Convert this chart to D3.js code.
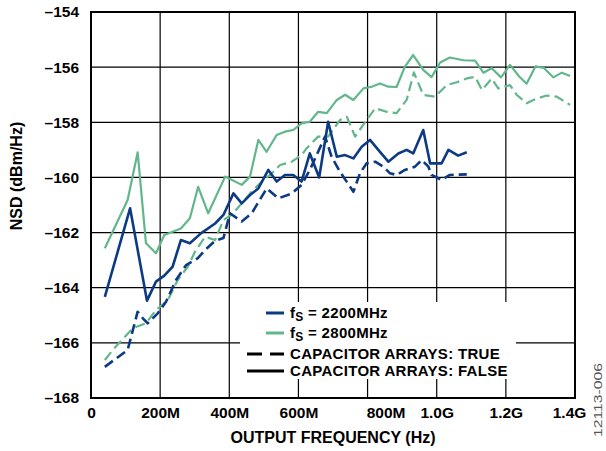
<!DOCTYPE html>
<meta charset="utf-8">
<title>NSD vs Output Frequency</title>
<script src="https://d3js.org/d3.v7.min.js"></script>
<style>
  body { margin: 0; background: #fff; }
  text { font-family: "Liberation Sans", Arial, sans-serif; font-weight: bold; fill: #000; }
</style>
<body>
<svg width="606" height="451"></svg>
<script>

// frequencies in MHz, NSD in dBm/Hz
var freq2200False = [40,113,162,188,212,236,260,286,318,359,383,412,436,460,484,513,537,561,585,609,633,660,686,711,735,759,783,807,831,860,889,913,932,961,981,1014,1034,1062,1087];
var nsd2200False = [-164.33,-161.12,-164.47,-163.78,-163.56,-163.24,-162.27,-162.39,-162.03,-161.67,-161.36,-160.58,-160.94,-160.64,-160.4,-159.73,-160.15,-159.91,-159.91,-160.15,-159.13,-160.0,-157.98,-159.25,-159.19,-159.31,-158.89,-158.64,-159.0,-159.43,-159.13,-159.0,-159.13,-158.28,-159.49,-159.49,-159.0,-159.21,-159.09];

var freq2200True = [40,106,135,150,164,193,217,246,275,309,330,359,383,402,436,465,508,542,581,609,633,677,696,720,759,778,797,822,846,865,884,908,937,957,976,985,1014,1038,1087];
var nsd2200True = [-166.87,-166.26,-164.87,-165.11,-165.29,-164.93,-164.51,-163.72,-163.18,-162.93,-162.63,-162.3,-162.2,-161.3,-161.6,-161.3,-160.4,-160.76,-160.58,-160.27,-159.73,-158.52,-159.25,-159.79,-160.52,-159.85,-159.49,-159.43,-159.61,-159.85,-159.91,-159.73,-159.61,-159.37,-159.61,-159.91,-160.09,-159.91,-159.89];

var freq2800False = [40,106,135,159,188,212,260,286,310,339,388,436,460,484,508,537,561,585,609,633,657,682,711,735,759,788,812,836,860,884,908,932,961,985,1010,1038,1077,1111,1135,1159,1186,1212,1238,1260,1286,1310,1337,1362,1386];
var nsd2800False = [-162.57,-160.82,-159.09,-162.39,-162.75,-162.09,-161.85,-161.48,-160.34,-161.3,-159.97,-160.27,-159.97,-158.64,-159.07,-158.46,-158.34,-158.28,-158.04,-157.98,-157.62,-157.67,-157.19,-157.0,-157.19,-156.77,-156.71,-156.59,-156.71,-156.72,-155.98,-155.56,-156.1,-156.36,-155.83,-155.65,-155.75,-155.76,-156.2,-156.04,-156.37,-155.92,-156.33,-156.6,-155.97,-156.03,-156.37,-156.2,-156.32];

var freq2800True = [40,67,121,159,188,222,251,280,301,330,359,383,407,436,460,489,523,547,581,609,624,657,686,720,740,764,797,822,855,884,913,934,961,995,1029,1058,1087,1111,1131,1159,1178,1212,1231,1260,1287,1318,1347,1386];
var nsd2800True = [-166.62,-166.2,-165.47,-165.29,-164.81,-164.45,-163.72,-163.24,-162.69,-162.15,-162.27,-161.54,-161.36,-160.94,-160.58,-160.21,-159.85,-159.55,-159.43,-159.19,-158.94,-158.52,-158.52,-157.92,-157.8,-158.52,-157.92,-157.49,-157.62,-157.67,-157.19,-156.19,-157.01,-157.07,-156.65,-156.55,-156.41,-156.35,-156.83,-156.41,-156.77,-156.65,-157.0,-157.31,-157.15,-157.03,-157.07,-157.37];

var xTicks = [0, 200, 400, 600, 800, 1000, 1200, 1400];
var xTickLabels = ["0", "200M", "400M", "600M", "800M", "1.0G", "1.2G", "1.4G"];
var yTicks = [-168, -166, -164, -162, -160, -158, -156, -154];

var blue = "#0d3a84", green = "#62b68c";

var svg = d3.select("svg"),
    margin = {top: 12, right: 31, bottom: 53, left: 91},
    width = 606 - margin.left - margin.right,
    height = 451 - margin.top - margin.bottom;

var g = svg.append("g")
    .attr("transform", "translate(" + margin.left + "," + margin.top + ")");

var x = d3.scaleLinear().domain([0, 1400]).range([0, width]);
var y = d3.scaleLinear().domain([-168, -154]).range([height, 0]);

// grid
g.append("g").selectAll("line")
  .data(xTicks.slice(1, -1))
  .enter().append("line")
    .attr("x1", function(d) { return x(d); })
    .attr("x2", function(d) { return x(d); })
    .attr("y1", 0).attr("y2", height)
    .attr("stroke", "#000").attr("stroke-width", 1.2);

g.append("g").selectAll("line")
  .data(yTicks.slice(1, -1))
  .enter().append("line")
    .attr("x1", 0).attr("x2", width)
    .attr("y1", function(d) { return y(d); })
    .attr("y2", function(d) { return y(d); })
    .attr("stroke", "#000").attr("stroke-width", 1.2);

// axes (labels only, frame drawn separately)
var xAxis = d3.axisBottom(x)
    .tickValues(xTicks)
    .tickSize(0)
    .tickPadding(9)
    .tickFormat(function(d, i) { return xTickLabels[i]; });

var xg = g.append("g")
    .attr("transform", "translate(0," + height + ")")
    .call(xAxis);
xg.select(".domain").remove();
xg.selectAll("text")
    .style("font-size", "15.5px")
    .attr("dx", function(d) { return d === 800 ? 18 : (d === 1400 ? -6 : 0); });

var yAxis = d3.axisLeft(y)
    .tickValues(yTicks)
    .tickSize(0)
    .tickPadding(12)
    .tickFormat(function(d) { return "\u2013" + Math.abs(d); });

var yg = g.append("g").call(yAxis);
yg.select(".domain").remove();
yg.selectAll("text").style("font-size", "15.5px");

// series
var line = d3.line()
    .x(function(d) { return x(d[0]); })
    .y(function(d) { return y(d[1]); });

var series = [
  {f: freq2800True, v: nsd2800True, color: green, dash: "10,5", w: 2.2},
  {f: freq2800False, v: nsd2800False, color: green, dash: null, w: 2.2},
  {f: freq2200True, v: nsd2200True, color: blue, dash: "10,5", w: 2.6},
  {f: freq2200False, v: nsd2200False, color: blue, dash: null, w: 2.6}
];

series.forEach(function(s) {
  g.append("path")
      .datum(s.f.map(function(f, i) { return [f, s.v[i]]; }))
      .attr("fill", "none")
      .attr("stroke", s.color)
      .attr("stroke-width", s.w)
      .attr("stroke-dasharray", s.dash)
      .attr("stroke-linejoin", "round")
      .attr("d", line);
});

// frame
g.append("rect")
    .attr("width", width).attr("height", height)
    .attr("fill", "none").attr("stroke", "#000").attr("stroke-width", 2);

// legend
var legend = g.append("g").attr("transform", "translate(" + (240 - margin.left) + "," + (302 - margin.top) + ")");

legend.append("rect")
    .attr("width", 276).attr("height", 77)
    .attr("fill", "#fff");

var legendItems = [
  {y: 11, x1: 26, color: blue, dash: null, sub: true, label: " = 2200MHz"},
  {y: 31, x1: 26, color: green, dash: null, sub: true, label: " = 2800MHz"},
  {y: 52, x1: 7, color: "#000", dash: "15,8", sub: false, label: "CAPACITOR ARRAYS: TRUE"},
  {y: 69, x1: 7, color: "#000", dash: null, sub: false, label: "CAPACITOR ARRAYS: FALSE"}
];

legendItems.forEach(function(d) {
  legend.append("line")
      .attr("x1", d.x1).attr("x2", 44)
      .attr("y1", d.y).attr("y2", d.y)
      .attr("stroke", d.color)
      .attr("stroke-width", 3)
      .attr("stroke-dasharray", d.dash);

  var t = legend.append("text")
      .attr("x", 50)
      .attr("y", d.y + 5)
      .style("font-size", "15px")
      .style("letter-spacing", "0.3px");
  if (d.sub) {
    t.append("tspan").text("f");
    t.append("tspan").attr("dy", 3).style("font-size", "12px").text("S");
    t.append("tspan").attr("dy", -3).text(d.label);
  } else {
    t.text(d.label);
  }
});

// axis titles
svg.append("text")
    .attr("x", margin.left + width / 2)
    .attr("y", 443)
    .attr("text-anchor", "middle")
    .style("font-size", "16px")
    .text("OUTPUT FREQUENCY (Hz)");

svg.append("text")
    .attr("transform", "translate(22,176) rotate(-90)")
    .attr("text-anchor", "middle")
    .style("font-size", "16px")
    .text("NSD (dBm/Hz)");

svg.append("text")
    .attr("transform", "translate(602,400) rotate(-90)")
    .attr("text-anchor", "middle")
    .attr("textLength", 74)
    .attr("lengthAdjust", "spacingAndGlyphs")
    .style("font-size", "10px")
    .style("font-weight", "normal")
    .style("fill", "#555")
    .text("12113-006");

</script>
</body>
